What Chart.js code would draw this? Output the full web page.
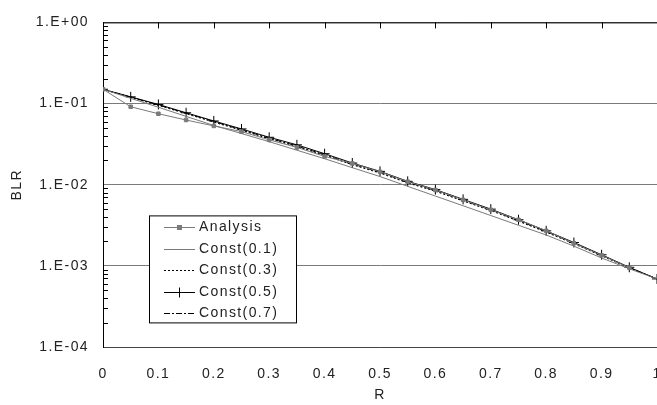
<!DOCTYPE html>
<html lang="en">
<head>
    <meta charset="UTF-8">
    <title>BLR vs R</title>
    <script src="https://cdn.jsdelivr.net/npm/chart.js@4.4.2/dist/chart.umd.min.js"></script>
    <style>
        html, body { margin: 0; padding: 0; background: #fff; overflow: hidden; }
        #wrap { width: 657px; height: 405px; position: relative; }
    </style>
</head>
<body>
    <div id="wrap"><canvas id="blrChart"></canvas></div>

    <script>
    // --- data ---
    const rValues = [0, 0.05, 0.1, 0.15, 0.2, 0.25, 0.3, 0.35, 0.4, 0.45, 0.5,
                     0.55, 0.6, 0.65, 0.7, 0.75, 0.8, 0.85, 0.9, 0.95, 1.0];

    const analysis = [0.150, 0.0913, 0.0749, 0.0627, 0.053, 0.0451, 0.0357, 0.0288, 0.0223, 0.0183,
                      0.0144, 0.0109, 0.0086, 0.0065, 0.0049, 0.0037, 0.0027, 0.0019, 0.00135, 0.00095];
    const const01 = [0.150, 0.116, 0.090, 0.0695, 0.0537, 0.0427, 0.0339, 0.0266, 0.0209, 0.0162, 0.0126,
                     0.00955, 0.00724, 0.0055, 0.00417, 0.00316, 0.0024, 0.00175, 0.00125, 0.00092, 0.00069];
    const const03 = [0.150, 0.119, 0.095, 0.075, 0.059, 0.0467, 0.0368, 0.0295, 0.0230, 0.0176, 0.0139,
                     0.0105, 0.0083, 0.0063, 0.0048, 0.00355, 0.0026, 0.00187, 0.00133, 0.00094, 0.00069];
    const const05 = [0.150, 0.121, 0.0975, 0.077, 0.061, 0.0487, 0.0384, 0.031, 0.0241, 0.0185, 0.0146,
                     0.0110, 0.0087, 0.0066, 0.0050, 0.0037, 0.0027, 0.00194, 0.00137, 0.00096, 0.00069];
    const const07 = [0.150, 0.120, 0.096, 0.076, 0.060, 0.0475, 0.0375, 0.0300, 0.0234, 0.0180, 0.0142,
                     0.0107, 0.0085, 0.0064, 0.0049, 0.0036, 0.00265, 0.0019, 0.00135, 0.00095, 0.00069];

    const xTickLabels = ['0', '0.1', '0.2', '0.3', '0.4', '0.5', '0.6', '0.7', '0.8', '0.9', '1'];
    const yTickValues = [1e-4, 1e-3, 1e-2, 1e-1, 1];
    const yTickLabels = ['1.E-04', '1.E-03', '1.E-02', '1.E-01', '1.E+00'];

    const FONT = { family: "'Liberation Sans', Arial, sans-serif", size: 14 };
    const GRAY = '#7a7a7a';
    const SPACING = '1.4px';

    const pts = arr => arr.map((v, i) => ({ x: rValues[i], y: v }));

    // frame, inner ticks and the boxed legend
    const decor = {
        id: 'decor',
        beforeLayout(chart) { chart.ctx.letterSpacing = SPACING; },
        beforeDraw(chart) { chart.ctx.letterSpacing = SPACING; },
        afterDraw(chart) {
            const { ctx, chartArea: a, scales: { x, y } } = chart;
            ctx.save();
            ctx.strokeStyle = '#000';
            ctx.lineWidth = 1;
            ctx.setLineDash([]);
            ctx.beginPath();
            ctx.moveTo(a.left, a.top + 0.5);
            ctx.lineTo(a.right, a.top + 0.5);
            // ticks hanging from the top edge
            xTickLabels.forEach((t, i) => {
                const v = i / 10;
                if (v <= 0 || v >= 1) return;
                const px = Math.round(x.getPixelForValue(v)) + 0.5;
                ctx.moveTo(px, a.top);
                ctx.lineTo(px, a.top + 6);
            });
            // log minor ticks on the left edge
            for (let e = -4; e < 0; e++) {
                for (let m = 2; m <= 9; m++) {
                    const py = Math.round(y.getPixelForValue(m * Math.pow(10, e))) + 0.5;
                    ctx.moveTo(a.left, py);
                    ctx.lineTo(a.left + 5, py);
                }
            }
            ctx.stroke();

            // legend box
            const bx = a.left + 46, by = a.top + 193, bw = 147, bh = 107, row = 21.5;
            ctx.fillStyle = '#fff';
            ctx.fillRect(bx, by, bw, bh);
            ctx.strokeRect(bx + 0.5, by + 0.5, bw, bh);
            ctx.font = `${FONT.size}px ${FONT.family}`;
            ctx.letterSpacing = SPACING;
            ctx.textBaseline = 'middle';
            chart.data.datasets.forEach((ds, i) => {
                const ly = Math.round(by + 12 + i * row) + 0.5;
                const x0 = bx + 15, x1 = bx + 46;
                ctx.strokeStyle = ds.borderColor;
                ctx.setLineDash(ds.borderDash || []);
                ctx.beginPath();
                ctx.moveTo(x0, ly);
                ctx.lineTo(x1, ly);
                ctx.stroke();
                ctx.setLineDash([]);
                const cx = (x0 + x1) / 2;
                if (ds.pointStyle === 'rect') {
                    ctx.fillStyle = ds.pointBackgroundColor;
                    ctx.fillRect(cx - 2.5, ly - 2.5, 5, 5);
                } else if (ds.pointStyle === 'cross') {
                    ctx.beginPath();
                    ctx.moveTo(cx - 5, ly); ctx.lineTo(cx + 5, ly);
                    ctx.moveTo(cx, ly - 5); ctx.lineTo(cx, ly + 5);
                    ctx.stroke();
                }
                ctx.fillStyle = '#222';
                ctx.fillText(ds.label, bx + 50, ly);
            });
            ctx.restore();
        }
    };

    new Chart(document.getElementById('blrChart'), {
        type: 'line',
        data: {
            datasets: [
                { label: 'Analysis', data: pts(analysis), borderColor: GRAY, borderWidth: 1,
                  pointStyle: 'rect', pointRadius: 2.5, pointBackgroundColor: GRAY, pointBorderColor: GRAY },
                { label: 'Const(0.1)', data: pts(const01), borderColor: GRAY, borderWidth: 1, pointRadius: 0 },
                { label: 'Const(0.3)', data: pts(const03), borderColor: '#000', borderWidth: 1,
                  borderDash: [2, 2], pointRadius: 0 },
                { label: 'Const(0.5)', data: pts(const05), borderColor: '#000', borderWidth: 1,
                  pointStyle: 'cross', pointRadius: 5, pointBorderColor: '#000', pointBorderWidth: 1 },
                { label: 'Const(0.7)', data: pts(const07), borderColor: '#000', borderWidth: 1,
                  borderDash: [6, 2, 2, 2], pointRadius: 0 }
            ]
        },
        options: {
            responsive: true,
            maintainAspectRatio: false,
            animation: false,
            layout: { autoPadding: false, padding: { top: 19, left: 0, right: 0, bottom: 0 } },
            plugins: { legend: { display: false }, tooltip: { enabled: false } },
            elements: { line: { tension: 0 } },
            scales: {
                x: {
                    type: 'linear', min: 0, max: 1,
                    grid: { display: false, drawTicks: false },
                    border: { display: true, color: '#444' },
                    ticks: {
                        stepSize: 0.1, padding: 19, color: '#222', font: FONT, maxRotation: 0,
                        callback: (v, i) => xTickLabels[i]
                    },
                    title: { display: true, text: 'R', color: '#222', font: FONT, padding: { top: 0, bottom: 1 } },
                    afterFit(s) { s.height = 58; s.paddingLeft = 0; s.paddingRight = 0; }
                },
                y: {
                    type: 'logarithmic', min: 1e-4, max: 1,
                    afterBuildTicks(s) { s.ticks = yTickValues.map(v => ({ value: v })); },
                    grid: { color: GRAY, lineWidth: 1, drawTicks: false },
                    border: { display: true, color: '#000' },
                    ticks: {
                        padding: 14, color: '#222', font: FONT,
                        callback: (v, i) => yTickLabels[i]
                    },
                    title: { display: true, text: 'BLR', color: '#222', font: FONT, padding: { top: 9, bottom: 0 } },
                    afterFit(s) { s.width = 103; }
                }
            }
        },
        plugins: [decor]
    });
    </script>
</body>
</html>
